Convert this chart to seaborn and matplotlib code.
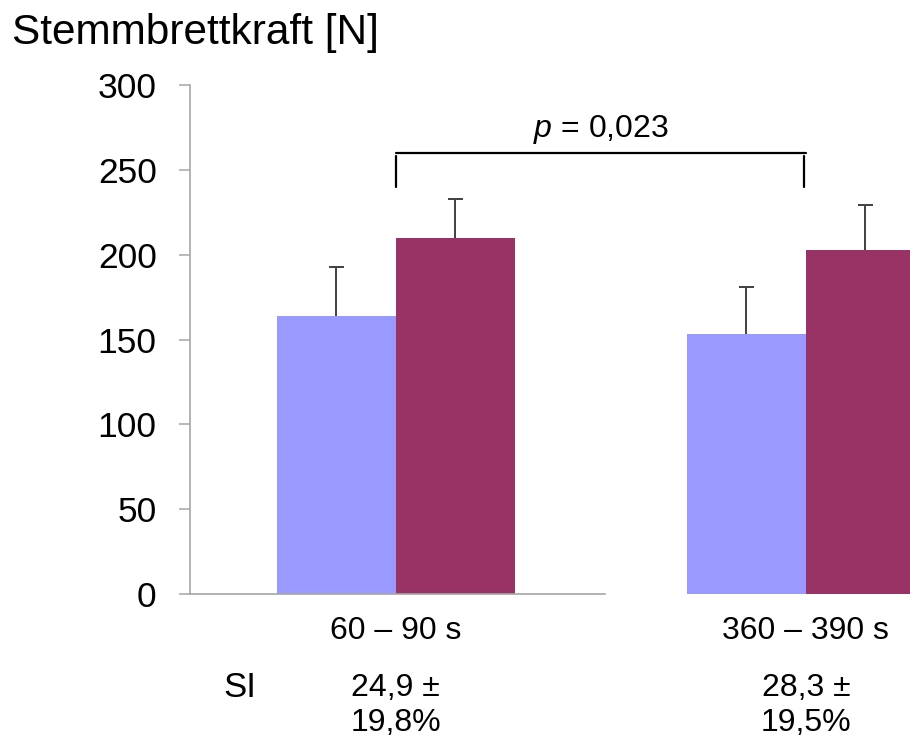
import matplotlib
matplotlib.use("Agg")
import matplotlib.pyplot as plt
import matplotlib.transforms as mtransforms
import pandas as pd
import seaborn as sns

# Data: mean foot-stretcher force [N] and standard deviation per interval and group
intervals = ["60 – 90 s", "360 – 390 s"]
groups = ["Gruppe 1", "Gruppe 2"]
means_g1 = [164, 153]
means_g2 = [210, 203]
sd_g1 = [29, 28]
sd_g2 = [23, 26]
si_mean = [24.9, 28.3]
si_sd = [19.8, 19.5]
p_text = "0,023"
yticks = [0, 50, 100, 150, 200, 250, 300]

colors = ["#9999FF", "#993366"]

sns.set_theme(style="white")
plt.rcParams["font.family"] = ["Liberation Sans", "DejaVu Sans"]
plt.rcParams["text.color"] = "black"
plt.rcParams["mathtext.fontset"] = "custom"
plt.rcParams["mathtext.it"] = "Liberation Sans:italic"
plt.rcParams["mathtext.rm"] = "Liberation Sans"

df = pd.DataFrame({
    "interval": intervals * 2,
    "group": [groups[0]] * 2 + [groups[1]] * 2,
    "force": means_g1 + means_g2,
    "sd": sd_g1 + sd_g2,
})

fig = plt.figure(figsize=(9.1, 7.4), dpi=100)
ax = fig.add_axes([0.2088, 0.1973, 0.7912, 0.6878])

sns.barplot(data=df, x="interval", y="force", hue="group", order=intervals,
            hue_order=groups, palette=colors, width=0.58, errorbar=None,
            legend=False, saturation=1, ax=ax, linewidth=0)

# one-sided (upper) error bars at the bar centres
cap_half = 0.018
for bar_group, sds in zip(ax.containers, [sd_g1, sd_g2]):
    for patch, sd in zip(bar_group, sds):
        xc = patch.get_x() + patch.get_width() / 2
        h = patch.get_height()
        ax.vlines(xc, h, h + sd, color="#404040", lw=1.4)
        ax.hlines(h + sd, xc - cap_half, xc + cap_half, color="#404040", lw=1.4)

ax.set_ylim(0, 300)
ax.set_xlim(-0.502, 1.254)
ax.set_yticks(yticks)
ax.set_xlabel("")
ax.set_ylabel("")

for s in ["top", "right"]:
    ax.spines[s].set_visible(False)
axis_grey = "#A6A6A6"
ax.spines["left"].set_color(axis_grey)
ax.spines["left"].set_linewidth(1.2)
ax.spines["bottom"].set_color(axis_grey)
ax.spines["bottom"].set_linewidth(1.2)
ax.spines["bottom"].set_bounds(-0.502, 0.51)

ax.tick_params(axis="y", which="both", direction="out", length=8, width=1.1,
               color=axis_grey, pad=16, labelsize=25.5, labelcolor="black", left=True)
ax.tick_params(axis="x", length=0, pad=16, labelsize=23, labelcolor="black")

# significance bracket between the two intervals
x0, x1 = 0, 1
ax.plot([x0, x1], [260, 260], color="black", lw=1.6, clip_on=False)
ax.plot([x0, x0], [258, 240], color="black", lw=1.6, clip_on=False)
ax.plot([x1 - 0.005, x1 - 0.005], [258, 240], color="black", lw=1.6, clip_on=False)
ax.text((x0 + x1) / 2, 273.5, r"$p$ = " + p_text, ha="center", va="center",
        fontsize=23, color="black")

# SI row below the chart
trans = mtransforms.blended_transform_factory(ax.transData, fig.transFigure)
fig.text(0.264, 0.0703, "SI", ha="center", va="center", fontsize=25, color="black")
for i, (m, s) in enumerate(zip(si_mean, si_sd)):
    ax.text(i, 0.0703, f"{m:.1f} ±".replace(".", ","), transform=trans,
            ha="center", va="center", fontsize=23, color="black", clip_on=False)
    ax.text(i, 0.0230, f"{s:.1f}%".replace(".", ","), transform=trans,
            ha="center", va="center", fontsize=23, color="black", clip_on=False)

fig.text(0.013, 0.955, "Stemmbrettkraft [N]", ha="left", va="center",
         fontsize=30.5, color="black")

fig.savefig("out.png", dpi=100)
